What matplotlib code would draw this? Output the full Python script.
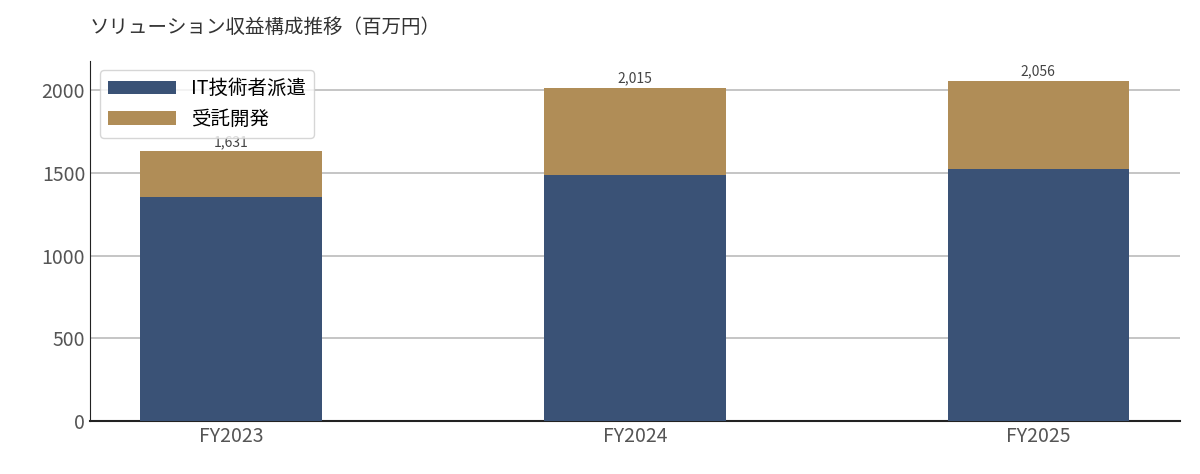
import matplotlib.pyplot as plt
import numpy as np

plt.rcParams['font.family'] = ['Noto Sans CJK JP', 'DejaVu Sans']

years = ['FY2023', 'FY2024', 'FY2025']
it_dispatch = [1353, 1490, 1522]
contract_dev = [278, 525, 534]
totals = [1631, 2015, 2056]

fig = plt.figure(figsize=(12, 4.74), dpi=100)
ax = fig.add_axes([0.075, 0.112, 0.908, 0.76])

x = np.arange(len(years))
ax.bar(x, it_dispatch, width=0.45, color='#3a5276', label='IT技術者派遣', zorder=3)
ax.bar(x, contract_dev, width=0.45, bottom=it_dispatch, color='#b08d57', label='受託開発', zorder=3)

for xi, t in zip(x, totals):
    ax.text(xi, t + 15, f'{t:,}', ha='center', va='bottom', fontsize=10, color='#444444', zorder=2)

ax.set_xlim(-0.35, 2.35)
ax.set_ylim(0, 2180)
ax.set_xticks(x)
ax.set_xticklabels(years, fontsize=14, color='#555555')
ax.set_yticks([0, 500, 1000, 1500, 2000])
ax.tick_params(axis='y', labelsize=14, colors='#555555', length=0)
ax.tick_params(axis='x', length=0)
ax.yaxis.grid(True, color='#bbbbbb', linewidth=1.2, zorder=0)
ax.spines['top'].set_visible(False)
ax.spines['right'].set_visible(False)
ax.spines['left'].set_color('#222222')
ax.spines['bottom'].set_color('#222222')
ax.spines['bottom'].set_linewidth(1.5)

leg = ax.legend(loc='upper left', fontsize=14, frameon=True, handlelength=3.5, borderpad=0.4)
leg.set_zorder(5)

fig.text(0.075, 0.93, 'ソリューション収益構成推移（百万円）', fontsize=14, color='#333333')

plt.savefig('out.png', dpi=100)
